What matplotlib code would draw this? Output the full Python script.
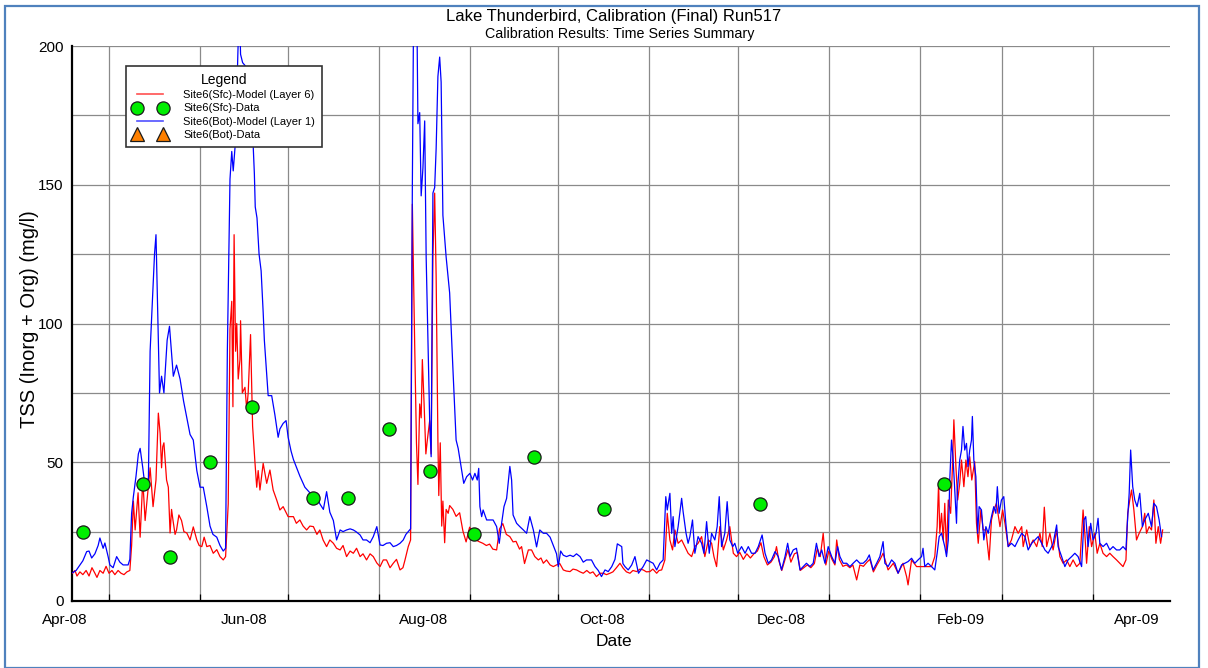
import numpy as np
import matplotlib
matplotlib.use("Agg")
import matplotlib.pyplot as plt
import matplotlib.dates as mdates
import matplotlib.transforms as mtransforms
from matplotlib.lines import Line2D
from matplotlib.patches import Rectangle

plt.rcParams['font.family'] = ['Liberation Sans', 'DejaVu Sans']

# ---- time base: samples are stored as days after the first model output ----
T0 = np.datetime64('2008-04-18T09:00')
AXIS_DAYS = 373.9

# Site6 surface (Layer 6) model TSS, mg/l
sfc_day = [0.2, 1.0, 1.7, 2.7, 3.7, 4.8, 5.8, 6.8, 7.8, 8.5, 9.5, 10.6, 11.6, 12.6, 13.6, 14.6,
           15.7, 16.7, 17.7, 18.7, 19.7, 20.3, 20.9, 21.5, 22.5, 23.2, 24.1, 24.9, 25.7, 26.6,
           27.6, 28.6, 29.4, 30.0, 30.5, 30.9, 31.3, 32.2, 32.8, 33.4, 33.9, 34.4, 35.1, 35.6,
           36.4, 37.3, 38.1, 39.1, 40.2, 41.3, 42.5, 43.3, 44.2, 45.0, 45.9, 47.0, 48.1, 49.3,
           50.4, 51.5, 52.3, 53.2, 53.8, 54.4, 54.8, 55.2, 55.7, 56.1, 56.6, 57.2, 57.4, 58.0,
           58.9, 59.5, 60.0, 60.8, 61.5, 62.3, 62.9, 63.4, 64.0, 65.1, 66.3, 67.4, 68.5, 69.7,
           70.8, 71.9, 73.6, 75.4, 76.4, 77.6, 78.7, 79.9, 81.0, 82.2, 83.4, 84.4, 85.5, 86.7,
           87.8, 89.0, 90.1, 91.3, 92.3, 93.5, 94.7, 95.8, 96.9, 98.1, 99.1, 100.3, 101.5, 102.6,
           103.8, 104.9, 106.0, 107.1, 108.3, 109.4, 110.5, 111.7, 112.7, 113.4, 114.5, 115.3,
           115.9, 116.7, 117.3, 117.8, 118.4, 118.9, 119.3, 119.9, 120.5, 121.0, 121.8, 122.3,
           122.9, 123.5, 124.0, 124.6, 124.9, 125.4, 125.9, 126.3, 126.9, 127.4, 128.1, 128.6,
           129.7, 130.8, 132.0, 133.1, 134.2, 135.4, 136.5, 137.5, 138.8, 139.9, 141.1, 142.2,
           143.3, 144.6, 145.6, 146.7, 147.9, 149.1, 150.2, 151.2, 152.4, 153.1, 154.1, 155.4,
           156.5, 157.6, 158.8, 159.7, 160.5, 161.6, 162.8, 163.9, 165.0, 166.1, 167.3, 168.3,
           169.6, 170.6, 171.8, 173.0, 174.1, 175.3, 176.4, 177.4, 178.6, 179.8, 180.9, 182.0,
           183.2, 184.2, 185.4, 186.6, 187.7, 188.8, 190.0, 191.0, 192.3, 193.4, 194.5, 195.6,
           196.8, 197.8, 199.1, 199.9, 200.8, 201.9, 202.7, 203.6, 204.5, 205.3, 206.4, 207.6,
           208.7, 209.8, 211.0, 212.1, 213.2, 214.4, 215.5, 216.7, 217.8, 218.6, 219.5, 220.6,
           221.8, 222.9, 224.0, 225.2, 226.3, 227.4, 228.6, 229.8, 231.0, 232.2, 233.4, 234.6,
           235.6, 236.8, 238.0, 239.2, 239.9, 240.7, 241.7, 242.8, 243.8, 244.8, 246.0, 247.0,
           248.0, 249.2, 250.4, 251.6, 252.8, 253.8, 254.8, 255.8, 256.7, 257.7, 258.8, 259.8,
           260.4, 261.3, 262.5, 263.7, 264.9, 265.9, 267.2, 268.3, 269.5, 270.7, 271.7, 272.9,
           274.1, 275.1, 276.2, 277.9, 279.7, 281.3, 283.0, 284.2, 284.7, 285.9, 287.6, 289.3,
           291.0, 292.7, 293.8, 294.6, 295.1, 295.5, 296.1, 296.7, 297.2, 297.8, 298.4, 299.2,
           299.9, 300.3, 301.0, 301.6, 302.3, 302.9, 303.7, 304.4, 305.1, 305.7, 306.4, 307.4,
           308.0, 308.6, 309.5, 310.3, 311.2, 312.3, 313.1, 313.9, 314.8, 316.0, 316.9, 317.7,
           318.8, 319.9, 321.1, 322.2, 323.4, 323.9, 325.1, 326.2, 327.3, 328.5, 329.6, 330.4,
           331.1, 331.9, 333.0, 334.1, 335.3, 336.4, 337.5, 338.7, 339.8, 340.9, 342.1, 343.2,
           344.3, 344.9, 345.5, 346.4, 347.2, 348.3, 349.1, 350.0, 351.1, 352.3, 353.4, 354.5,
           355.7, 356.8, 357.9, 358.9, 359.5, 360.2, 360.8, 361.6, 362.5, 363.4, 364.5, 365.3,
           365.9, 366.8, 367.6, 368.4, 369.1, 369.9, 370.7, 371.4]
sfc_tss = [10, 11, 9, 10.5, 9.5, 11, 9, 12, 10, 8.5, 11, 10, 12.5, 10, 11, 9.5,
           11, 10, 9.5, 10.5, 11, 20, 36, 25.6, 39, 23, 43.6, 29, 38, 48,
           34, 43.6, 67.7, 60.5, 48, 55.6, 57, 43.6, 41, 24.5, 33, 29, 24, 25.6,
           31, 29, 25, 24.5, 22, 26.7, 22, 20, 19.6, 23, 19.6, 20, 17.2, 18.5,
           16, 14.8, 16, 35, 98, 108, 70, 132, 90, 100, 80, 87, 101, 75,
           77, 69, 75, 96, 63, 50, 41, 47, 40, 49.6, 42.4, 47.2, 40, 36.4,
           32.8, 34, 30.4, 30.4, 28, 29.2, 27, 25.6, 27, 26.8, 24, 25.6, 22, 19.6,
           22, 20.8, 19, 18.4, 20, 16, 18, 17.2, 19, 16, 17, 14.8, 17, 16,
           13.7, 12.4, 14.8, 14.8, 12, 13.6, 15, 11.2, 12, 14.8, 19.6, 22,
           143, 92, 57, 42, 71, 66, 87, 71, 53, 58, 65, 53,
           124, 147, 117, 58, 38, 57, 27, 36, 21, 33, 31.6, 34.4,
           33, 30.5, 31.8, 25.3, 21.3, 26.6, 24, 22, 21.3, 20.8, 20, 20.5,
           18.7, 18.4, 26, 27.9, 24, 23.2, 21.3, 21.5, 18.7, 19.6, 13.5, 18.4,
           18.4, 16, 14.8, 15.5, 13.6, 14.8, 13, 12.4, 13, 13.5, 11.2, 10.8,
           10.6, 11.5, 11.2, 10.5, 10, 11, 10, 10.5, 8.8, 10, 10, 9.5,
           10, 10.5, 12, 13.6, 11.8, 10.5, 10, 11, 10.6, 11.5, 11.2, 10.5,
           10.6, 11.5, 10, 11, 11.2, 14.8, 31.6, 22, 18.4, 25.6, 20.8, 22,
           19.6, 17.2, 16, 19.6, 20.8, 23.2, 16, 22, 20.8, 16, 12.4, 26.8,
           18.4, 22, 26.8, 17.2, 16, 17.5, 15, 17, 15.5, 17, 18, 21,
           16, 13, 14, 16, 19.6, 14.5, 11, 15, 18.5, 14, 17, 17.5,
           11, 12, 13, 12, 13.5, 19, 16, 24.4, 13, 18, 15, 13,
           22, 15, 12.5, 13, 12, 13, 7.6, 13, 12.5, 14, 15, 10.5,
           13, 14.8, 17.2, 11.2, 13.6, 10, 13.6, 8.8, 5.8, 14.8, 12.4, 12.4,
           12.4, 12.4, 16, 26.8, 42.4, 24.4, 31.6, 22, 35.2, 17.2, 36.4, 31.6,
           50.8, 65.3, 48.4, 36.4, 42.4, 50.8, 41.2, 50.8, 44.8, 52, 43.6, 50.2,
           28, 20.8, 32.8, 25.6, 25.6, 14.8, 29.2, 32.8, 35.2, 26.8, 32.8, 28,
           19.6, 22, 26.8, 24.4, 26.8, 19.6, 25.6, 19.6, 22, 19.6, 24.4, 19.6,
           33.8, 19.6, 24.4, 18.4, 25.6, 16, 13.6, 14.8, 12.4, 14.8, 12.4, 13.6,
           32.8, 24.4, 13.6, 26.8, 19.6, 24.4, 17.2, 20.8, 17.2, 16, 17.2, 16,
           14.8, 13.6, 12.4, 14.8, 31.6, 36.4, 40, 32.8, 22, 24.4, 26.8, 31.6,
           24.4, 26.8, 25.6, 36.4, 20.8, 26.8, 20.8, 25.6]

# Site6 bottom (Layer 1) model TSS, mg/l
bot_day = [0.2, 1.4, 2.7, 3.7, 5.0, 5.8, 6.7, 7.8, 8.9, 9.5, 10.6, 11.2, 12.3, 12.9, 14.0, 15.2,
           16.3, 17.4, 19.1, 19.7, 20.3, 20.9, 21.8, 22.6, 23.2, 24.1, 24.9, 25.5, 26.0, 26.6,
           27.5, 28.1, 28.6, 29.4, 29.8, 30.5, 31.3, 32.4, 33.2, 34.5, 35.6, 36.8, 38.0, 39.1,
           40.2, 41.3, 42.5, 43.6, 44.7, 45.9, 47.0, 48.0, 49.3, 50.4, 51.5, 52.3, 52.9, 53.8,
           54.4, 54.9, 55.7, 56.5, 57.0, 57.4, 58.1, 58.9, 60.0, 61.2, 61.7, 62.1, 62.4, 63.0,
           63.7, 64.4, 65.1, 65.5, 66.3, 66.8, 68.0, 69.1, 70.2, 70.8, 71.9, 72.9, 73.6, 74.6,
           75.4, 76.5, 77.6, 79.3, 81.0, 82.2, 83.3, 84.4, 85.6, 86.7, 87.8, 89.0, 90.1, 91.3,
           92.3, 93.5, 94.7, 95.8, 96.7, 98.1, 99.1, 100.3, 101.5, 102.6, 103.8, 104.9, 105.9,
           107.1, 108.3, 109.4, 110.5, 111.7, 112.8, 113.7, 114.5, 115.3, 115.9, 116.3, 117.0,
           117.5, 117.8, 118.4, 118.9, 119.5, 120.1, 120.6, 121.2, 121.8, 122.3, 122.9, 123.5,
           124.0, 124.6, 125.2, 125.7, 126.3, 127.4, 128.6, 129.7, 130.8, 131.5, 132.7, 133.4,
           134.4, 135.5, 136.4, 137.2, 138.0, 138.5, 138.9, 139.5, 140.0, 141.2, 142.3, 143.4,
           144.6, 145.5, 146.3, 147.1, 148.0, 149.1, 149.7, 150.2, 151.4, 152.5, 153.7, 154.8,
           155.9, 157.1, 158.2, 159.3, 160.5, 161.6, 162.8, 163.9, 165.0, 165.6, 166.4, 167.3,
           168.4, 169.6, 170.7, 171.8, 173.0, 174.1, 175.2, 176.9, 178.1, 179.2, 180.3, 181.5,
           182.6, 183.8, 184.9, 185.7, 186.6, 187.2, 187.6, 188.3, 189.4, 190.6, 191.7, 192.9,
           194.5, 195.7, 196.8, 197.9, 199.1, 200.2, 201.3, 202.2, 202.7, 203.6, 204.2, 204.7,
           205.3, 206.4, 207.6, 208.1, 209.1, 209.8, 210.4, 211.3, 212.1, 213.2, 214.4, 215.2,
           216.1, 217.0, 217.8, 218.9, 219.7, 220.4, 221.2, 222.3, 223.1, 224.0, 225.0, 225.7,
           226.7, 228.0, 229.2, 230.3, 231.4, 232.6, 233.7, 235.0, 236.0, 237.1, 238.2, 239.4,
           240.5, 241.6, 242.8, 243.7, 244.5, 245.6, 246.7, 247.9, 249.0, 250.1, 251.3, 252.4,
           253.5, 254.4, 255.3, 256.4, 257.5, 258.7, 259.8, 260.7, 261.5, 262.6, 263.8, 264.9,
           266.0, 267.2, 268.3, 269.4, 270.6, 271.5, 272.8, 274.0, 275.1, 276.2, 276.8, 277.9,
           279.1, 280.2, 281.3, 282.5, 283.6, 284.7, 285.9, 287.0, 288.1, 289.3, 289.8, 290.4,
           291.5, 292.7, 293.8, 294.6, 295.3, 296.1, 297.2, 297.8, 298.4, 298.9, 299.5, 300.0,
           300.6, 301.2, 301.5, 302.3, 302.9, 303.4, 304.0, 304.6, 305.1, 305.7, 306.3, 306.6,
           307.1, 307.8, 308.4, 308.9, 309.7, 310.5, 311.2, 312.0, 313.1, 313.9, 314.6, 315.1,
           315.7, 316.5, 317.3, 318.0, 318.8, 319.9, 321.1, 322.2, 323.4, 324.5, 325.6, 326.8,
           327.9, 329.0, 330.2, 331.3, 332.4, 333.6, 334.1, 335.3, 335.8, 337.0, 338.1, 339.2,
           340.4, 341.5, 342.6, 343.8, 344.6, 345.2, 346.0, 346.9, 347.7, 348.7, 349.4, 350.0,
           351.1, 352.3, 353.4, 354.5, 355.7, 356.8, 357.9, 358.9, 359.3, 360.0, 360.5, 361.2,
           361.9, 362.7, 363.6, 364.5, 365.3, 366.5, 367.6, 368.4, 369.3, 370.2, 371.0]
bot_tss = [10.2, 11, 13, 14.5, 17.8, 18, 15.5, 17, 20, 22.7, 19, 20.9, 16, 13, 12, 16,
           14, 13, 13, 15, 31.6, 37.6, 45, 53, 55, 48, 41, 44, 42.4, 90,
           111, 125, 132, 94, 75, 81, 75, 94, 99, 81, 85, 80, 72, 66,
           60, 58, 47, 41, 41, 34, 27, 24, 23, 20, 18, 19, 90, 152,
           162, 155, 166, 198, 215, 197, 194, 193, 190, 174, 164, 154, 142, 138,
           125, 119, 104, 94, 82, 74, 74, 67, 59, 62, 64, 65, 59, 54,
           51, 48, 45, 41, 39, 37, 37.6, 35, 33, 39.4, 32, 29, 22, 25.6,
           25, 25.6, 26, 25.6, 25, 23.8, 22, 22, 21, 23.2, 26.8, 20.2, 20,
           20.8, 21, 19.6, 20, 20.8, 22, 24, 25, 26, 150, 210, 215,
           205, 172, 176, 146, 156, 173, 124, 95, 65, 52, 147, 149,
           163, 189, 196, 187, 139, 124, 111, 84, 58, 55, 47, 42.4,
           44.8, 46, 43.6, 46, 43.6, 47.8, 34, 30.4, 32.8, 29.2, 29.2, 29.2,
           26.8, 20.8, 28, 34, 37, 48.5, 43.6, 31, 28, 26.8, 25.6, 24.4,
           30.4, 25.6, 19.5, 25.6, 24.4, 24.4, 23, 20, 17, 12.4, 18, 16.5,
           16, 16.5, 16, 17, 16, 14, 14.8, 14.8, 12.4, 11, 8.8, 11.2,
           10.6, 12.4, 15, 20.6, 20, 19.6, 13.5, 12.4, 11.2, 13, 16, 10,
           12.4, 14.8, 14.2, 13.6, 11.2, 13.6, 14.8, 37.6, 32.8, 38.8, 24.4, 30.4,
           19.6, 26.8, 37, 32.2, 24.4, 20.8, 23.2, 29.2, 17.2, 23.2, 20.8, 17.2,
           28.6, 17.2, 24.4, 22, 26.8, 37.6, 19.6, 24.4, 35.8, 22, 19.6, 20.8,
           17.2, 19.6, 17.2, 19.6, 17.2, 17.2, 19.6, 23.8, 17.2, 13.6, 14.8, 17.8,
           16, 11.2, 16, 20.8, 16, 18.4, 19, 11.2, 12.4, 13.6, 12.4, 13.6,
           20.8, 16, 18.4, 13.6, 19.6, 16, 13.6, 19.6, 16, 13.6, 13.6, 12.4,
           13.6, 14.8, 13.6, 13.6, 14.8, 16.6, 11.2, 13.6, 16, 21.4, 13.6, 12.4,
           14.8, 13.6, 10, 13, 13.6, 14.2, 15.4, 13.6, 14.8, 16, 19, 12.4,
           13.6, 12.4, 11.2, 17.2, 23.2, 24.4, 19.6, 16, 22, 43.6, 58, 52,
           40, 28, 40, 50.8, 54.4, 62.9, 54.4, 56.8, 48.4, 54.4, 58, 66.5,
           50.8, 44.8, 24.4, 34, 32.8, 22, 26.8, 24.4, 30.4, 34, 31.6, 41.2,
           31.6, 36.4, 37.6, 28, 19.6, 20.8, 19.6, 22, 24.4, 23.2, 18.4, 20.8,
           22, 23.2, 20.8, 18.4, 17.2, 19.6, 20.8, 27.4, 19.6, 16, 12.4, 14.8,
           16, 17.2, 16, 12.4, 29.2, 30.4, 19.6, 28, 22, 24.4, 29.8, 20.8,
           19.6, 20.8, 18.4, 19.6, 18.4, 18.4, 19.6, 18.4, 26.8, 38.8, 54.4, 41.2,
           36.4, 34, 38.8, 26.8, 29.2, 31.6, 26.8, 35.2, 34, 29.2, 23.2]

# Site6 surface field samples
sfc_obs_day = [3.7, 24.2, 33.4, 47.0, 61.3, 82.1, 94.0, 107.9, 121.9, 136.9, 157.3, 181.1,
               234.3, 296.9]
sfc_obs_tss = [25, 42, 16, 50, 70, 37, 37, 62, 47, 24, 52, 33, 35, 42]

# Site6 bottom field samples (none in this period)
bot_obs_day = []
bot_obs_tss = []

# date labels, centred on the middle of every second month
label_dates = ['2008-04-16', '2008-06-16', '2008-08-16', '2008-10-16',
               '2008-12-16', '2009-02-15', '2009-04-16']
label_text = ['Apr-08', 'Jun-08', 'Aug-08', 'Oct-08', 'Dec-08', 'Feb-09', 'Apr-09']


def to_dates(days):
    secs = (np.asarray(days, dtype=float) * 86400).astype('int64')
    return (T0 + secs.astype('timedelta64[s]')).astype('datetime64[s]').astype(object)


W, H = 1208, 668
fig = plt.figure(figsize=(W / 100, H / 100), dpi=100)
ax = fig.add_axes([72 / W, 67 / H, 1098 / W, 555 / H])

ax.plot(to_dates(sfc_day), sfc_tss, color='#ff0000', lw=0.9, zorder=3,
        label='Site6(Sfc)-Model (Layer 6)')
ax.plot(to_dates(bot_day), bot_tss, color='#0000ff', lw=0.9, zorder=4,
        label='Site6(Bot)-Model (Layer 1)')
ax.plot(to_dates(sfc_obs_day), sfc_obs_tss, ls='none', marker='o', ms=9.5,
        mfc='#00ee00', mec='#1a1a1a', mew=0.9, zorder=6, label='Site6(Sfc)-Data')
ax.plot(to_dates(bot_obs_day), bot_obs_tss, ls='none', marker='^', ms=10,
        mfc='#ff8000', mec='#1a1a1a', mew=0.9, zorder=6, label='Site6(Bot)-Data')

t_start = to_dates([0.0])[0]
t_end = to_dates([AXIS_DAYS])[0]
ax.set_xlim(t_start, t_end)
ax.set_ylim(0, 200)

# grid: month boundaries vertically, every 25 mg/l horizontally
ax.xaxis.set_major_locator(mdates.MonthLocator())
ax.xaxis.set_major_formatter(plt.NullFormatter())
ax.set_yticks(np.arange(0, 201, 50))
ax.set_yticks(np.arange(25, 200, 50), minor=True)
ax.grid(True, which='both', color='#8a8a8a', lw=0.9)
ax.set_axisbelow(True)

for side in ('top', 'right'):
    ax.spines[side].set_visible(False)
for side in ('left', 'bottom'):
    ax.spines[side].set_linewidth(1.6)
    ax.spines[side].set_color('black')

ax.tick_params(axis='x', which='major', direction='in', length=5, width=0.9,
               color='black')
ax.tick_params(axis='y', which='both', length=0, pad=6, labelsize=11)

trans = mtransforms.blended_transform_factory(ax.transData, fig.transFigure)
for d, t in zip(label_dates, label_text):
    ax.text(np.datetime64(d).astype('datetime64[s]').astype(object), 1 - 620 / H, t,
            transform=trans, ha='center', va='center', fontsize=11, clip_on=False)

fig.text(614 / W, 1 - 641 / H, 'Date', ha='center', va='center', fontsize=12.5)
fig.text(30 / W, 1 - 319 / H, 'TSS (Inorg + Org) (mg/l)', rotation=90,
         ha='center', va='center', fontsize=14.5)

title_font = ['Liberation Sans Narrow', 'Liberation Sans', 'DejaVu Sans']
fig.text(614 / W, 1 - 17 / H, 'Lake Thunderbird, Calibration (Final) Run517',
         ha='center', va='center', fontsize=12, family=title_font)
fig.text(620 / W, 1 - 34 / H, 'Calibration Results: Time Series Summary',
         ha='center', va='center', fontsize=10.3, family=title_font)

handles = [
    Line2D([], [], color='#ff5050', lw=1.2),
    Line2D([], [], ls='none', marker='o', ms=9.5, mfc='#00ee00', mec='#1a1a1a', mew=0.9),
    Line2D([], [], color='#5050ff', lw=1.2),
    Line2D([], [], ls='none', marker='^', ms=10, mfc='#ff8000', mec='#1a1a1a', mew=0.9),
]
labels = ['Site6(Sfc)-Model (Layer 6)', 'Site6(Sfc)-Data',
          'Site6(Bot)-Model (Layer 1)', 'Site6(Bot)-Data']
leg = ax.legend(handles, labels, title='Legend', loc='upper left',
                bbox_to_anchor=(126 / W, 1 - 66 / H), bbox_transform=fig.transFigure,
                fontsize=8, title_fontsize=10, numpoints=2, handlelength=3.0,
                handletextpad=1.5, labelspacing=0.28, borderpad=0.65,
                borderaxespad=0, fancybox=False, framealpha=1, edgecolor='#333333')
leg.get_frame().set_linewidth(1.2)
leg.set_zorder(10)

# outer frame
fig.patches.append(Rectangle((5 / W, 0), 1194 / W, 1 - 6 / H, transform=fig.transFigure,
                             fill=False, edgecolor='#4f81bd', lw=1.6))

fig.savefig('out.png', dpi=100)
